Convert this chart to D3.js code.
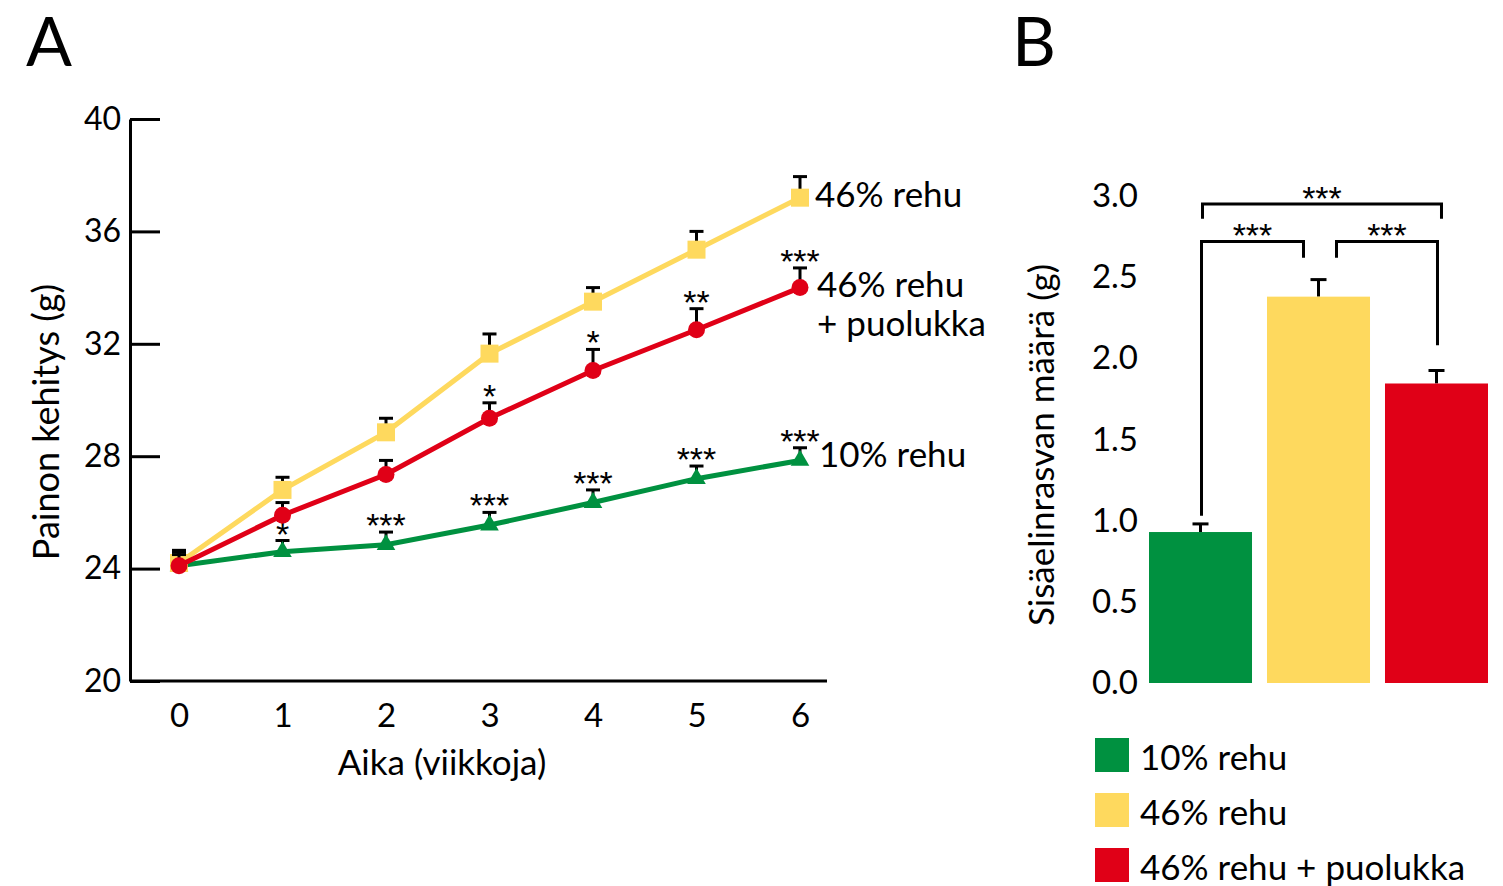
<!DOCTYPE html>
<html>
<head>
<meta charset="utf-8">
<script src="https://cdn.jsdelivr.net/npm/d3@7"></script>
<style>
  body { margin: 0; background: #fff; }
  svg text { font-family: Lato, "Open Sans", sans-serif; fill: #000; }
</style>
</head>
<body>
<div id="chart"></div>
<script>
// --- data ---
const weeks = [0, 1, 2, 3, 4, 5, 6];
const yTicksA = [20, 24, 28, 32, 36, 40];

const lowFat = [24.1, 24.6, 24.85, 25.55, 26.35, 27.2, 27.85];
const lowFatErr = [0.5, 0.4, 0.45, 0.45, 0.45, 0.45, 0.45];
const lowFatStars = ["", "*", "***", "***", "***", "***", "***"];

const highFat = [24.2, 26.8, 28.85, 31.65, 33.5, 35.35, 37.2];
const highFatErr = [0.45, 0.45, 0.5, 0.7, 0.5, 0.65, 0.75];

const lingon = [24.1, 25.9, 27.35, 29.35, 31.05, 32.5, 34.0];
const lingonErr = [0.4, 0.45, 0.5, 0.55, 0.75, 0.75, 0.7];
const lingonStars = ["", "", "", "*", "*", "**", "***"];

const groups = ["10% rehu", "46% rehu", "46% rehu + puolukka"];
const fatMass = [0.93, 2.38, 1.845];
const fatErr = [0.05, 0.105, 0.08];
const yTicksB = [0, 0.5, 1, 1.5, 2, 2.5, 3];
// brackets: from group, to group, level, leg ends (values)
const brackets = [
  {from: 0, to: 2, level: 2.95, leftEnd: 2.86, rightEnd: 2.86, label: "***"},
  {from: 0, to: 1, level: 2.72, leftEnd: 1.03, rightEnd: 2.62, label: "***"},
  {from: 1, to: 2, level: 2.72, leftEnd: 2.62, rightEnd: 2.08, label: "***"}
];

const colGreen = "#009140", colYellow = "#FED95E", colRed = "#E00017";

const svg = d3.select("#chart").append("svg")
  .attr("width", 1503).attr("height", 886);

// star text helper: big centred asterisks
function stars(sel) {
  sel.attr("text-anchor", "middle")
    .style("font-family", "'Liberation Sans', sans-serif")
    .style("font-size", "34px").style("letter-spacing", "0px");
}

// ================= Panel A =================
const xA = d3.scaleLinear().domain([0, 6]).range([179, 800]);
const yA = d3.scaleLinear().domain([20, 40]).range([681, 119]);

svg.append("text").attr("x", 26).attr("y", 66)
  .style("font-size", "68px").text("A");

const gA = svg.append("g");

// y axis (ticks pointing inward)
const yAxisA = gA.append("g")
  .attr("transform", "translate(130,0)")
  .call(d3.axisLeft(yA).tickValues(yTicksA).tickSizeInner(-30).tickSizeOuter(0).tickPadding(9));
yAxisA.selectAll("text").style("font-size", "32px").style("font-family", "Lato");
yAxisA.selectAll("line, path").attr("stroke", "#000").attr("stroke-width", 3);

// x axis
gA.append("line").attr("x1", 130).attr("x2", 827)
  .attr("y1", yA(20)).attr("y2", yA(20))
  .attr("stroke", "#000").attr("stroke-width", 3);
const xAxisA = gA.append("g")
  .attr("transform", `translate(0,${yA(20)})`)
  .call(d3.axisBottom(xA).tickValues(weeks).tickSize(0).tickPadding(23).tickFormat(d3.format("d")));
xAxisA.select(".domain").remove();
xAxisA.selectAll("text").style("font-size", "33px").style("font-family", "Lato");

gA.append("text").attr("x", 442).attr("y", 763).attr("dy", "0.35em")
  .attr("text-anchor", "middle").style("font-size", "35px").text("Aika (viikkoja)");
gA.append("text")
  .attr("transform", "translate(46,422) rotate(-90)")
  .attr("dy", "0.35em").attr("text-anchor", "middle")
  .style("font-size", "36px").text("Painon kehitys (g)");

const line = d3.line().x((d, i) => xA(weeks[i])).y(d => yA(d));

function drawErr(vals, errs) {
  const g = gA.append("g");
  vals.forEach((v, i) => {
    const x = xA(weeks[i]), top = yA(v + errs[i]);
    g.append("line").attr("x1", x).attr("x2", x).attr("y1", yA(v)).attr("y2", top)
      .attr("stroke", "#000").attr("stroke-width", 3);
    g.append("line").attr("x1", x - 7).attr("x2", x + 7).attr("y1", top).attr("y2", top)
      .attr("stroke", "#000").attr("stroke-width", 3);
  });
}
function drawStars(vals, errs, labels) {
  gA.append("g").selectAll("text").data(labels).join("text")
    .attr("x", (d, i) => xA(weeks[i]))
    .attr("y", (d, i) => yA(vals[i] + errs[i]) + 5)
    .call(stars)
    .text(d => d);
}

// green series
drawErr(lowFat, lowFatErr);
gA.append("path").datum(lowFat).attr("d", line)
  .attr("fill", "none").attr("stroke", colGreen).attr("stroke-width", 5);
gA.append("g").selectAll("path").data(lowFat).join("path")
  .attr("transform", (d, i) => `translate(${xA(weeks[i])},${yA(d)})`)
  .attr("d", d3.symbol(d3.symbolTriangle, 150))
  .attr("fill", colGreen);
drawStars(lowFat, lowFatErr, lowFatStars);

// yellow series
drawErr(highFat, highFatErr);
gA.append("path").datum(highFat).attr("d", line)
  .attr("fill", "none").attr("stroke", colYellow).attr("stroke-width", 5);
gA.append("g").selectAll("rect").data(highFat).join("rect")
  .attr("x", (d, i) => xA(weeks[i]) - 9).attr("y", d => yA(d) - 9)
  .attr("width", 18).attr("height", 18).attr("fill", colYellow);

// red series
drawErr(lingon, lingonErr);
gA.append("path").datum(lingon).attr("d", line)
  .attr("fill", "none").attr("stroke", colRed).attr("stroke-width", 5);
gA.append("g").selectAll("circle").data(lingon).join("circle")
  .attr("cx", (d, i) => xA(weeks[i])).attr("cy", d => yA(d))
  .attr("r", 8.5).attr("fill", colRed);
drawStars(lingon, lingonErr, lingonStars);

// end labels
const endLabels = gA.append("g").style("font-size", "35px");
endLabels.append("text").attr("x", 815).attr("y", 195).attr("dy", "0.35em").text("46% rehu");
endLabels.append("text").attr("x", 817).attr("y", 285).attr("dy", "0.35em").text("46% rehu");
endLabels.append("text").attr("x", 817).attr("y", 324).attr("dy", "0.35em").text("+ puolukka");
endLabels.append("text").attr("x", 819).attr("y", 455).attr("dy", "0.35em").text("10% rehu");

// ================= Panel B =================
const xB = d3.scaleBand().domain(groups).range([1149, 1488]).paddingInner(0.127);
const yB = d3.scaleLinear().domain([0, 3]).range([683, 196]);
const colorB = d3.scaleOrdinal().domain(groups).range([colGreen, colYellow, colRed]);

svg.append("text").attr("x", 1012).attr("y", 66)
  .style("font-size", "68px").text("B");

const gB = svg.append("g");

const yAxisB = gB.append("g")
  .attr("transform", "translate(1140,0)")
  .call(d3.axisLeft(yB).tickValues(yTicksB).tickSize(0).tickPadding(2).tickFormat(d3.format(".1f")));
yAxisB.select(".domain").remove();
yAxisB.selectAll("text").style("font-size", "33px").style("font-family", "Lato");

gB.append("text")
  .attr("transform", "translate(1042,445) rotate(-90)")
  .attr("dy", "0.35em").attr("text-anchor", "middle")
  .style("font-size", "35px").text("Sisäelinrasvan määrä (g)");

// error bars
fatMass.forEach((v, i) => {
  const x = xB(groups[i]) + xB.bandwidth() / 2, top = yB(v + fatErr[i]);
  gB.append("line").attr("x1", x).attr("x2", x).attr("y1", yB(v)).attr("y2", top)
    .attr("stroke", "#000").attr("stroke-width", 3);
  gB.append("line").attr("x1", x - 8).attr("x2", x + 8).attr("y1", top).attr("y2", top)
    .attr("stroke", "#000").attr("stroke-width", 3);
});

gB.append("g").selectAll("rect").data(fatMass).join("rect")
  .attr("x", (d, i) => xB(groups[i]))
  .attr("y", d => yB(d))
  .attr("width", xB.bandwidth())
  .attr("height", d => yB(0) - yB(d))
  .attr("fill", (d, i) => colorB(groups[i]));

// significance brackets
const cx = i => xB(groups[i]) + xB.bandwidth() / 2;
const bracketX = [
  [cx(0) + 2, cx(2) + 5],
  [cx(0) + 1, cx(1) - 15],
  [cx(1) + 18, cx(2) + 1]
];
brackets.forEach((b, k) => {
  const [x1, x2] = bracketX[k];
  gB.append("path")
    .attr("d", `M${x1},${yB(b.leftEnd)}V${yB(b.level)}H${x2}V${yB(b.rightEnd)}`)
    .attr("fill", "none").attr("stroke", "#000").attr("stroke-width", 3);
  gB.append("text").attr("x", (x1 + x2) / 2).attr("y", yB(b.level) + 6)
    .call(stars)
    .text(b.label);
});

// legend
const legend = gB.append("g").selectAll("g").data(groups).join("g")
  .attr("transform", (d, i) => `translate(1095,${738 + i * 55})`);
legend.append("rect").attr("width", 34).attr("height", 34).attr("fill", d => colorB(d));
legend.append("text").attr("x", 45).attr("y", 20).attr("dy", "0.35em")
  .style("font-size", "35px").text(d => d);
</script>
</body>
</html>
